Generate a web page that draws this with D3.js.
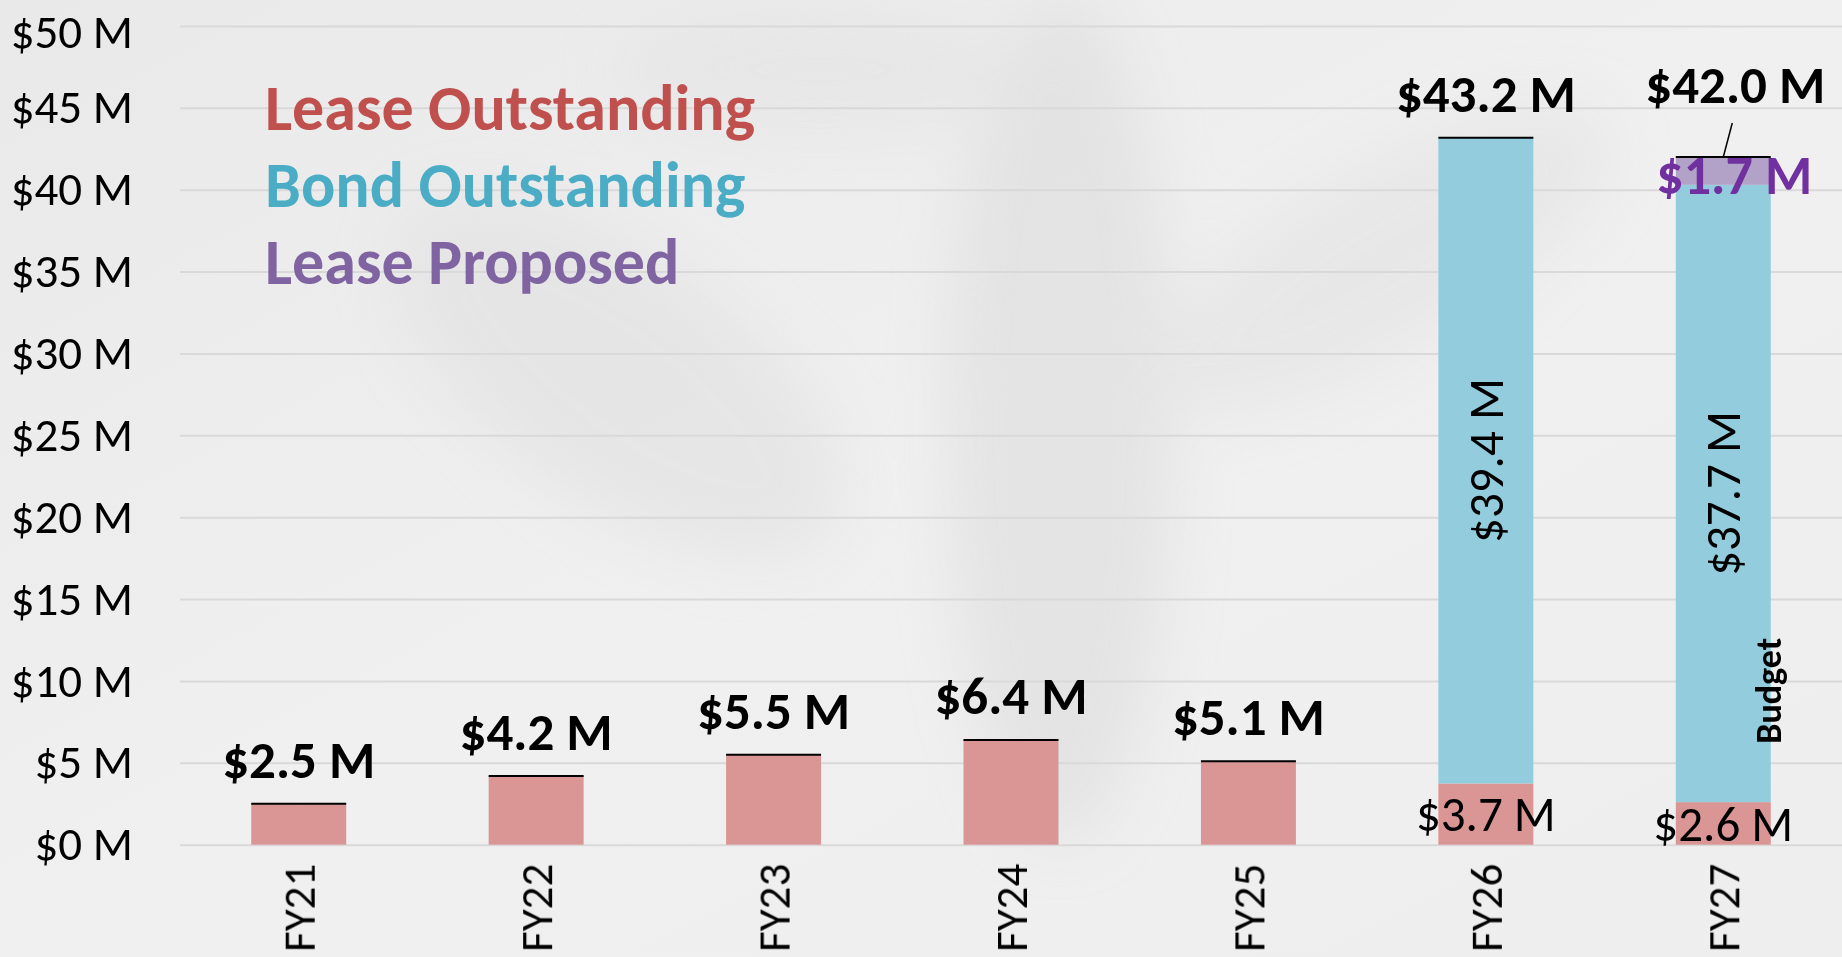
<!DOCTYPE html>
<html>
<head>
<meta charset="utf-8">
<script src="https://cdn.jsdelivr.net/npm/d3@7"></script>
<style>
  html, body { margin: 0; padding: 0; background: #eeeeee; overflow: hidden; }
  svg { display: block; font-family: Carlito, Calibri, Lato, sans-serif; }
</style>
</head>
<body>
<svg></svg>
<script>
const years = ['FY21', 'FY22', 'FY23', 'FY24', 'FY25', 'FY26', 'FY27'];
const leaseOutstanding = [2.5, 4.2, 5.5, 6.4, 5.1, 3.74, 2.6];
const bondOutstanding = [0, 0, 0, 0, 0, 39.44, 37.7];
const leaseProposed = [0, 0, 0, 0, 0, 0, 1.7];
const yTicks = [0, 5, 10, 15, 20, 25, 30, 35, 40, 45, 50];
const seriesNames = ['Lease Outstanding', 'Bond Outstanding', 'Lease Proposed'];
const budgetNote = { year: 'FY27', value: 9.4, text: 'Budget' };

const width = 1842;
const height = 957;
const margin = { top: 26, right: 0, bottom: 112, left: 180 };

const fill = ['#d99694', '#93cddd', '#b3a2c7'];
const legendColor = ['#c0504d', '#4bacc6', '#8064a2'];

const fmt = v => `$${v.toFixed(1)} M`;

const svg = d3.select('svg')
  .attr('width', width)
  .attr('height', height);

// faded photo look behind the chart
const defs = svg.append('defs');
defs.append('filter').attr('id', 'soft')
  .append('feGaussianBlur').attr('stdDeviation', 30);
const bgGrad = defs.append('linearGradient').attr('id', 'bg')
  .attr('x1', 0).attr('y1', 0).attr('x2', 1).attr('y2', 1);
bgGrad.append('stop').attr('offset', 0).attr('stop-color', '#e9e9e9');
bgGrad.append('stop').attr('offset', 0.5).attr('stop-color', '#f0f0f0');
bgGrad.append('stop').attr('offset', 1).attr('stop-color', '#eeeeee');
svg.append('rect').attr('width', width).attr('height', height).attr('fill', 'url(#bg)');

const photo = svg.append('g').attr('filter', 'url(#soft)').attr('opacity', 0.6);
photo.append('ellipse').attr('cx', 1060).attr('cy', 420).attr('rx', 110).attr('ry', 420).attr('fill', '#dcdcdc');
photo.append('ellipse').attr('cx', 620).attr('cy', 380).attr('rx', 260).attr('ry', 120)
  .attr('transform', 'rotate(35 620 380)').attr('fill', '#e0e0e0');
photo.append('ellipse').attr('cx', 1380).attr('cy', 260).attr('rx', 260).attr('ry', 90)
  .attr('transform', 'rotate(-30 1380 260)').attr('fill', '#e2e2e2');
photo.append('ellipse').attr('cx', 820).attr('cy', 70).attr('rx', 200).attr('ry', 60).attr('fill', '#e3e3e3');

const x = d3.scaleBand()
  .domain(years)
  .range([margin.left, width - margin.right])
  .paddingInner(0.6)
  .paddingOuter(0.3);

const y = d3.scaleLinear()
  .domain([0, 50])
  .range([height - margin.bottom - 0.3, margin.top]);

// gridlines + y labels
const yAxis = svg.append('g')
  .attr('transform', `translate(${margin.left},0)`)
  .call(d3.axisLeft(y).tickValues(yTicks).tickSize(-(width - margin.left - margin.right))
    .tickFormat(d => `$${d} M`).tickPadding(47));
yAxis.select('.domain').remove();
yAxis.selectAll('.tick line').attr('stroke', '#d9d9d9').attr('stroke-width', 2);
yAxis.selectAll('.tick text')
  .attr('fill', '#000')
  .attr('font-size', 47)
  .attr('font-family', 'Carlito, Calibri, Lato, sans-serif');
// keep the top label inside the page
yAxis.selectAll('.tick text').filter(d => d === d3.max(yTicks)).attr('dy', '0.45em');

// x labels
const xAxis = svg.append('g')
  .attr('transform', `translate(0,${y(0)})`)
  .call(d3.axisBottom(x).tickSize(0));
xAxis.select('.domain').remove();
xAxis.selectAll('.tick text')
  .attr('fill', '#000')
  .attr('font-size', 45)
  .attr('font-family', 'Carlito, Calibri, Lato, sans-serif')
  .attr('text-anchor', 'end')
  .attr('dy', '0.35em')
  .attr('transform', 'translate(0,19) rotate(-90)')
  .attr('x', 0)
  .attr('y', 0);

// stacked bars
const rows = years.map((yr, i) => ({
  year: yr,
  lease: leaseOutstanding[i],
  bond: bondOutstanding[i],
  proposed: leaseProposed[i],
}));
const stack = d3.stack().keys(['lease', 'bond', 'proposed']);
const layers = stack(rows);

svg.append('g').attr('class', 'bars')
  .selectAll('g')
  .data(layers)
  .join('g')
  .attr('fill', (d, i) => fill[i])
  .selectAll('rect')
  .data(d => d)
  .join('rect')
  .attr('x', d => x(d.data.year))
  .attr('width', x.bandwidth())
  .attr('y', d => y(d[1]))
  .attr('height', d => y(d[0]) - y(d[1]));

// total marker line on top
const totals = rows.map(r => ({ year: r.year, total: r.lease + r.bond + r.proposed }));
svg.append('g').attr('class', 'totals')
  .selectAll('line')
  .data(totals)
  .join('line')
  .attr('x1', d => x(d.year))
  .attr('x2', d => x(d.year) + x.bandwidth())
  .attr('y1', d => y(d.total))
  .attr('y2', d => y(d.total))
  .attr('stroke', '#000')
  .attr('stroke-width', 2);

// segment labels (only on stacked bars)
const stacked = rows.filter(r => r.bond > 0);
const cx = yr => x(yr) + x.bandwidth() / 2;

svg.append('g').selectAll('text')
  .data(stacked)
  .join('text')
  .attr('x', d => cx(d.year))
  .attr('y', d => y(d.lease / 2))
  .attr('dy', '0.35em')
  .attr('text-anchor', 'middle')
  .attr('font-size', 49)
  .text(d => fmt(d.lease));

svg.append('g').selectAll('text')
  .data(stacked)
  .join('text')
  .attr('transform', d => `translate(${cx(d.year)},${y(d.lease + d.bond / 2)}) rotate(-90)`)
  .attr('dy', '0.35em')
  .attr('text-anchor', 'middle')
  .attr('font-size', 49)
  .text(d => fmt(d.bond));

svg.append('g').selectAll('text')
  .data(rows.filter(r => r.proposed > 0))
  .join('text')
  .attr('x', d => cx(d.year) + 11)
  .attr('y', d => y(d.lease + d.bond + d.proposed / 2) + 23)
  .attr('text-anchor', 'middle')
  .attr('font-size', 54)
  .attr('font-weight', 'bold')
  .attr('fill', '#7030a0')
  .text(d => fmt(d.proposed));

// total labels, FY27 lifted with a leader line
const lifted = d => rows.find(r => r.year === d.year).proposed > 0;
svg.append('g').selectAll('text')
  .data(totals)
  .join('text')
  .attr('x', d => cx(d.year) + (lifted(d) ? 12 : 0))
  .attr('y', d => y(d.total) - (lifted(d) ? 54 : 26))
  .attr('text-anchor', 'middle')
  .attr('font-size', 53)
  .attr('font-weight', 'bold')
  .text(d => fmt(d.total));

svg.append('g').selectAll('line')
  .data(totals.filter(lifted))
  .join('line')
  .attr('x1', d => cx(d.year) + 9)
  .attr('y1', d => y(d.total) - 34)
  .attr('x2', d => cx(d.year))
  .attr('y2', d => y(d.total))
  .attr('stroke', '#000')
  .attr('stroke-width', 1.5);

// Budget note
svg.append('text')
  .attr('transform', `translate(${cx(budgetNote.year) + 45},${y(budgetNote.value)}) rotate(-90)`)
  .attr('text-anchor', 'middle')
  .attr('dy', '0.35em')
  .attr('font-size', 36)
  .attr('font-weight', 'bold')
  .text(budgetNote.text);

// legend
svg.append('g').attr('class', 'legend')
  .selectAll('text')
  .data(seriesNames)
  .join('text')
  .attr('x', 265)
  .attr('y', (d, i) => 130 + i * 77)
  .attr('font-size', 64)
  .attr('font-weight', 'bold')
  .attr('fill', (d, i) => legendColor[i])
  .text(d => d);
</script>
</body>
</html>
